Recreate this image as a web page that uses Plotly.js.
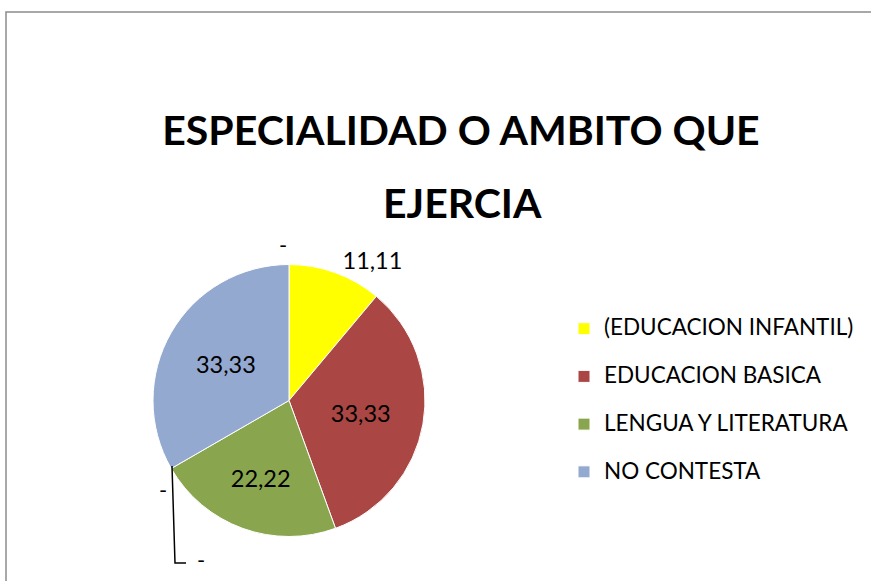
<!DOCTYPE html>
<html>
<head>
<meta charset="utf-8">
<script src="https://cdn.plot.ly/plotly-3.0.1.min.js"></script>
<style>html,body{margin:0;padding:0;background:#fff;}#chart{width:871px;height:581px;}</style>
</head>
<body>
<div id="chart"></div>
<script>
const categories = ["(EDUCACION INFANTIL)", "EDUCACION BASICA", "LENGUA Y LITERATURA", "NO CONTESTA"];
const values = [11.11, 33.33, 22.22, 33.33];
const colors = ["#ffff00", "#aa4643", "#89a54e", "#93a9cf"];
const textPositions = ["outside", "inside", "inside", "inside"];
const titleLine1 = "ESPECIALIDAD O AMBITO QUE";
const titleLine2 = "EJERCIA";
const zeroLabel = "-";

const W = 871, H = 581;
const px = x => x / W;
const py = y => 1 - y / H;

const FONT = "Lato, 'Open Sans', sans-serif";

const trace = {
  type: "pie",
  labels: categories.map(c => '<span style="font-size:22.5px">' + c + '</span><br> '),
  values: values,
  sort: false,
  direction: "clockwise",
  rotation: 0,
  marker: { colors: colors, line: { color: "#ffffff", width: 1 } },
  texttemplate: "%{value:.2f}",
  textposition: textPositions,
  insidetextorientation: "horizontal",
  textfont: { family: FONT, size: 23.5, color: "#000000" },
  outsidetextfont: { family: FONT, size: 23.5, color: "#000000" },
  hoverinfo: "none",
  domain: { x: [px(153), px(425)], y: [py(536.5), py(264.5)] },
  automargin: false
};

const titleFont = { family: FONT, size: 41, color: "#000000", weight: "bold" };

const layout = {
  width: W, height: H,
  margin: { l: 0, r: 0, t: 0, b: 0 },
  paper_bgcolor: "#ffffff",
  separators: ",.",
  font: { family: FONT, color: "#000000" },
  title: {
    text: titleLine1,
    font: titleFont,
    x: px(461), xanchor: "center", xref: "paper",
    y: py(131), yanchor: "middle", yref: "paper"
  },
  showlegend: true,
  legend: {
    x: px(564), xanchor: "left",
    y: py(311), yanchor: "top",
    valign: "top",
    font: { family: FONT, size: 17.2, color: "#000000" },
    bgcolor: "rgba(0,0,0,0)"
  },
  shapes: [
    { type: "rect", xref: "paper", yref: "paper", x0: px(6), y0: py(12), x1: 1.05, y1: -0.05,
      line: { color: "#8c8c8c", width: 1.5 }, fillcolor: "rgba(0,0,0,0)" },
    { type: "path", xref: "paper", yref: "paper",
      path: "M" + px(172) + "," + py(466) + " L" + px(175) + "," + py(563) + " L" + px(186) + "," + py(563),
      line: { color: "#000000", width: 1.5 } }
  ],
  annotations: [
    { text: titleLine2, xref: "paper", yref: "paper", x: px(462), y: py(202), xanchor: "center", yanchor: "middle",
      showarrow: false, font: titleFont },
    { text: zeroLabel, xref: "paper", yref: "paper", x: px(277), y: py(244), showarrow: false, font: { family: FONT, size: 22 } },
    { text: zeroLabel, xref: "paper", yref: "paper", x: px(157), y: py(505), showarrow: false, font: { family: FONT, size: 22 } },
    { text: zeroLabel, xref: "paper", yref: "paper", x: px(195), y: py(575), showarrow: false, font: { family: FONT, size: 22 } }
  ]
};

Plotly.newPlot("chart", [trace], layout, { displayModeBar: false, staticPlot: true });
</script>
</body>
</html>
